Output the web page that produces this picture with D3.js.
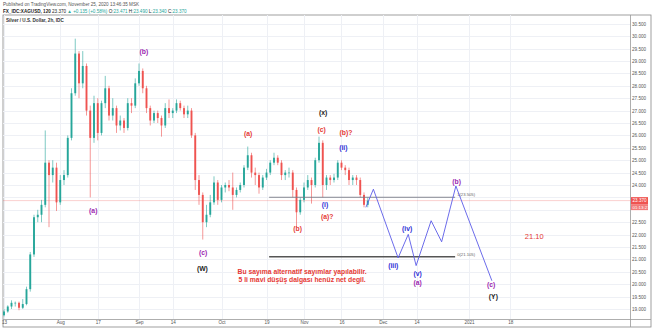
<!DOCTYPE html>
<html>
<head>
<meta charset="utf-8">
<script src="https://cdn.jsdelivr.net/npm/d3@7"></script>
<style>
  body { margin: 0; background: #fff; }
  svg { display: block; font-family: "Liberation Sans", Arial, sans-serif; }
</style>
</head>
<body>
<svg id="chart" width="654" height="328"></svg>
<script>
"use strict";

// daily OHLC, Jul 13 .. Nov 25 2020 (business days)
var startDate = "2020-07-13";
var ohlc = [
  [18.75, 19.0, 18.7, 18.9], [18.9, 19.15, 18.85, 19.1], [19.1, 19.35, 19.0, 19.25], [19.25, 19.3, 19.1, 19.25],
  [19.25, 19.3, 18.95, 19.05], [19.05, 19.4, 19.0, 19.2], [19.2, 19.9, 19.15, 19.8], [19.8, 21.3, 19.7, 21.2],
  [21.2, 22.8, 21.1, 22.7], [22.7, 23.0, 22.5, 22.8], [22.8, 23.4, 22.5, 23.2], [23.2, 26.2, 23.1, 24.9],
  [24.9, 25.0, 22.3, 24.4], [24.4, 25.0, 24.1, 24.7], [24.7, 24.9, 22.95, 23.3], [23.3, 24.4, 23.2, 24.2],
  [24.2, 24.6, 24.0, 24.4], [24.4, 26.0, 24.3, 25.9], [25.9, 27.9, 25.8, 27.7], [27.7, 29.9, 27.6, 29.3],
  [29.3, 29.4, 27.5, 28.1], [28.1, 29.4, 27.9, 28.8], [28.8, 28.9, 26.8, 27.0], [27.0, 27.2, 23.5, 25.9],
  [25.9, 27.6, 25.7, 27.3], [27.3, 27.5, 25.8, 26.1], [26.1, 27.4, 26.0, 27.3], [27.3, 28.4, 27.1, 27.9],
  [27.9, 28.0, 26.6, 26.8], [26.8, 27.5, 26.6, 27.1], [27.1, 27.2, 26.1, 26.4], [26.4, 26.8, 26.2, 26.6],
  [26.6, 26.7, 26.1, 26.3], [26.3, 27.5, 26.2, 27.3], [27.3, 27.5, 26.9, 27.2], [27.2, 28.3, 27.1, 28.1],
  [28.1, 28.9, 28.0, 28.6], [28.6, 28.7, 27.7, 27.9], [27.9, 28.0, 26.9, 27.1], [27.1, 27.2, 26.4, 26.6],
  [26.6, 27.0, 26.5, 26.9], [26.9, 27.0, 26.5, 26.7], [26.7, 26.8, 25.95, 26.4], [26.4, 27.3, 26.3, 27.1],
  [27.1, 27.45, 26.7, 26.9], [26.9, 27.1, 26.7, 27.0], [27.0, 27.45, 26.9, 27.3], [27.3, 27.4, 27.0, 27.1],
  [27.1, 27.2, 26.7, 26.85], [26.85, 27.2, 26.7, 27.0], [27.0, 27.1, 25.9, 26.0], [26.0, 26.1, 23.8, 24.2],
  [24.2, 24.4, 23.2, 23.6], [23.6, 23.7, 21.8, 22.5], [22.5, 23.2, 22.3, 22.8], [22.8, 23.6, 22.7, 23.3],
  [23.3, 24.35, 23.2, 24.1], [24.1, 24.2, 23.2, 23.4], [23.4, 24.0, 23.3, 23.9], [23.9, 24.1, 23.7, 24.0],
  [24.0, 24.2, 23.75, 23.9], [23.9, 24.5, 23.0, 23.6], [23.6, 23.9, 23.5, 23.8], [23.8, 24.1, 23.7, 24.0],
  [24.0, 24.8, 23.9, 24.7], [24.7, 25.55, 24.6, 25.2], [25.2, 25.3, 24.3, 24.5], [24.5, 24.7, 24.0, 24.4],
  [24.4, 24.5, 23.65, 23.9], [23.9, 24.4, 23.8, 24.3], [24.3, 24.65, 24.2, 24.5], [24.5, 25.0, 24.4, 24.9],
  [24.9, 25.3, 24.8, 25.1], [25.1, 25.2, 24.8, 24.9], [24.9, 25.0, 24.2, 24.4], [24.4, 24.6, 24.2, 24.5],
  [24.5, 24.7, 24.3, 24.5], [24.5, 24.6, 23.5, 23.8], [23.8, 23.9, 22.3, 22.9], [22.9, 23.5, 22.8, 23.4],
  [23.4, 24.1, 23.3, 23.9], [23.9, 24.4, 23.8, 24.2], [24.2, 24.3, 23.25, 24.0], [24.0, 25.1, 23.9, 25.0],
  [25.0, 25.95, 24.9, 25.7], [25.7, 25.8, 23.5, 24.0], [24.0, 24.4, 23.8, 24.3], [24.3, 24.4, 24.0, 24.2],
  [24.2, 24.45, 24.1, 24.3], [24.3, 25.0, 24.2, 24.9], [24.9, 25.0, 24.6, 24.7], [24.7, 24.8, 24.4, 24.6],
  [24.6, 24.7, 24.0, 24.2], [24.2, 24.4, 24.0, 24.3], [24.3, 24.4, 24.0, 24.2], [24.2, 24.3, 23.5, 23.6],
  [23.6, 23.7, 23.1, 23.2], [23.2, 23.5, 23.1, 23.37]
];
var lastPrice = 23.37;

// time axis labels
var tickDates = ["2020-07-13", "2020-08-03", "2020-08-17", "2020-09-01", "2020-09-14", "2020-10-01",
  "2020-10-19", "2020-11-02", "2020-11-16", "2020-12-01", "2020-12-14", "2021-01-01", "2021-01-18"];
var tickLabels = ["13", "Aug", "17", "Sep", "14", "Oct", "19", "Nov", "16", "Dec", "14", "2021", "18"];

// projected wave path (business-day index, price)
var projDays = [96.5, 98.5, 105.1, 107.8, 109.9, 113.9, 116.7, 120.5, 130.1];
var projPrices = [23.1, 23.83, 21.06, 22.01, 20.75, 22.56, 21.71, 23.96, 20.14];

// two level lines
var levelPrices = [23.505, 21.105];
var levelNames = ["1(23.505)", "0(21.105)"];
var levelFrom = 70.7, levelTo = 120.3;

// wave labels
var waveText = ["(a)", "(b)", "(c)", "(W)", "(a)", "(b)", "(c)", "(x)", "(b)?", "(ii)", "(i)", "(a)?",
  "(iii)", "(iv)", "(v)", "(a)", "(b)", "(c)", "(Y)", "21.10"];
var waveDay = [23.8, 37.3, 53.1, 52.9, 65.1, 78.3, 84.7, 85.1, 91.2, 90.5, 85.6, 86.2,
  103.8, 107.5, 110.3, 110.3, 120.7, 129.9, 130.5, 141.4];
var wavePrice = [22.99, 29.4, 21.29, 20.64, 26.07, 22.23, 26.22, 26.93, 26.1, 25.5, 23.22, 22.72,
  20.77, 22.25, 20.44, 20.08, 24.16, 19.97, 19.5, 21.92];
var waveKind = ["p", "p", "p", "k", "r", "r", "r", "k", "r", "b", "b", "r",
  "b", "b", "b", "p", "p", "p", "k", "r"];

var noteLines = ["Bu sayıma alternatif sayımlar yapılabilir.", "5 li mavi düşüş dalgası henüz net degil."];

var kindColor = { p: "#9c27b0", r: "#e53935", b: "#2f2fd6", k: "#222" };
var upColor = "#26a69a", downColor = "#ef5350";

var frame = { left: 3, top: 15, right: 651, bottom: 327 };
var plotRight = 630, plotBottom = 319;

function bizIndex(str) {
    var d0 = new Date(startDate + "T00:00:00Z");
    var d1 = new Date(str + "T00:00:00Z");
    var n = 0;
    for (var d = new Date(d0); d < d1; d.setUTCDate(d.getUTCDate() + 1)) {
        var wd = d.getUTCDay();
        if (wd !== 0 && wd !== 6) n++;
    }
    return n;
}

var svg = d3.select("#chart");

var x = d3.scaleLinear().domain([0, 168]).range([4, 634]);
var y = d3.scaleLinear().domain([19, 30.5]).range([309, 23.8]);

svg.append("defs").append("clipPath").attr("id", "plot")
    .append("rect").attr("x", frame.left).attr("y", frame.top)
    .attr("width", plotRight - frame.left).attr("height", plotBottom - frame.top);

// header
svg.append("text").attr("x", 3).attr("y", 6).attr("font-size", 4.6).attr("fill", "#555")
    .text("Published on TradingView.com, November 25, 2020 13:46:35 MSK");
var hdr = svg.append("text").attr("x", 3).attr("y", 12.5).attr("font-size", 4.6).attr("fill", "#222");
hdr.append("tspan").attr("font-weight", "bold").text("FX_IDC:XAGUSD, 120 ");
hdr.append("tspan").text("23.370 ");
hdr.append("tspan").attr("fill", upColor).text("▲ +0.135 (+0.58%) ");
[["O:", "23.471"], ["H:", "23.490"], ["L:", "23.340"], ["C:", "23.370"]].forEach(function(p) {
    hdr.append("tspan").text(p[0]);
    hdr.append("tspan").attr("fill", upColor).text(p[1] + " ");
});

// frame
svg.append("rect").attr("x", frame.left).attr("y", frame.top)
    .attr("width", frame.right - frame.left).attr("height", frame.bottom - frame.top)
    .attr("fill", "none").attr("stroke", "#888").attr("stroke-width", 0.8);

// grid
var priceTicks = d3.range(19, 30.51, 0.5);
var grid = svg.append("g").attr("clip-path", "url(#plot)");
grid.selectAll(".hg").data(priceTicks).enter().append("line")
    .attr("x1", frame.left).attr("x2", plotRight)
    .attr("y1", d => Math.round(y(d)) + 0.5).attr("y2", d => Math.round(y(d)) + 0.5)
    .attr("stroke", "#eef0f5").attr("stroke-width", 1);
var tickIdx = tickDates.map(bizIndex);
grid.selectAll(".vg").data(tickIdx).enter().append("line")
    .attr("x1", d => Math.round(x(d)) + 0.5).attr("x2", d => Math.round(x(d)) + 0.5)
    .attr("y1", frame.top).attr("y2", plotBottom)
    .attr("stroke", "#eef0f5").attr("stroke-width", 1);

// axes separators
svg.append("line").attr("x1", plotRight + 0.5).attr("x2", plotRight + 0.5)
    .attr("y1", frame.top).attr("y2", frame.bottom).attr("stroke", "#999").attr("stroke-width", 0.8);
svg.append("line").attr("x1", frame.left).attr("x2", frame.right)
    .attr("y1", plotBottom + 0.5).attr("y2", plotBottom + 0.5).attr("stroke", "#999").attr("stroke-width", 0.8);

// price axis (labels under the last-price tag are hidden, as on the chart)
var shownTicks = priceTicks.filter(d => Math.abs(y(d) - y(lastPrice) - 3) > 8);
var yAxis = d3.axisRight(y).tickValues(shownTicks).tickSize(0).tickPadding(2)
    .tickFormat(d3.format(".3f"));
var ya = svg.append("g").attr("transform", "translate(" + plotRight + ",0)").call(yAxis);
ya.select(".domain").remove();
ya.selectAll("text").attr("font-size", 4.6).attr("fill", "#555").attr("font-family", "Liberation Sans, Arial");

// time axis
var xAxis = d3.axisBottom(x).tickValues(tickIdx).tickSize(0).tickPadding(2)
    .tickFormat((d, i) => tickLabels[i]);
var xa = svg.append("g").attr("transform", "translate(0," + plotBottom + ")").call(xAxis);
xa.select(".domain").remove();
xa.selectAll("text").attr("font-size", 4.6).attr("fill", "#555").attr("font-family", "Liberation Sans, Arial");

// title
svg.append("text").attr("x", 6).attr("y", 22).attr("font-size", 4.6).attr("fill", "#333")
    .attr("font-weight", "bold").text("Silver / U.S. Dollar, 2h, IDC");

var plot = svg.append("g").attr("clip-path", "url(#plot)");

// last price line
plot.append("line").attr("x1", frame.left).attr("x2", plotRight)
    .attr("y1", y(lastPrice)).attr("y2", y(lastPrice))
    .attr("stroke", "#ef5350").attr("stroke-opacity", 0.35).attr("stroke-width", 0.8);

// candles
var candles = plot.selectAll(".c").data(ohlc).enter().append("g");
candles.append("line")
    .attr("x1", (d, i) => x(i)).attr("x2", (d, i) => x(i))
    .attr("y1", d => y(d[1])).attr("y2", d => y(d[2]))
    .attr("stroke", d => d[3] >= d[0] ? upColor : downColor).attr("stroke-width", 0.6);
candles.append("rect")
    .attr("x", (d, i) => x(i) - 0.95).attr("width", 1.9)
    .attr("y", d => y(Math.max(d[0], d[3])))
    .attr("height", d => Math.max(0.6, Math.abs(y(d[0]) - y(d[3]))))
    .attr("fill", d => d[3] >= d[0] ? upColor : downColor);

// level lines
levelPrices.forEach(function(p, i) {
    plot.append("line").attr("x1", x(levelFrom)).attr("x2", x(levelTo))
        .attr("y1", y(p)).attr("y2", y(p))
        .attr("stroke", i === 0 ? "#787b86" : "#555").attr("stroke-width", i === 0 ? 0.9 : 1.6);
    plot.append("text").attr("x", x(levelTo) + 2).attr("y", y(p) - 1)
        .attr("font-size", 4.2).attr("fill", "#666").text(levelNames[i]);
});

// projected path
var proj = projDays.map((d, i) => [d, projPrices[i]]);
plot.append("path").datum(proj)
    .attr("d", d3.line().x(d => x(d[0])).y(d => y(d[1])))
    .attr("fill", "none").attr("stroke", "#5b5be8").attr("stroke-width", 0.9);

// wave labels
waveText.forEach(function(t, i) {
    plot.append("text").attr("x", x(waveDay[i])).attr("y", y(wavePrice[i]))
        .attr("text-anchor", "middle").attr("dominant-baseline", "central")
        .attr("font-size", t === "21.10" ? 7.5 : 6.8).attr("font-weight", t === "21.10" ? "normal" : "bold")
        .attr("fill", kindColor[waveKind[i]]).text(t);
});

// note
noteLines.forEach(function(t, i) {
    plot.append("text").attr("x", x(79.5)).attr("y", y(20.5 - i * 0.33))
        .attr("text-anchor", "middle").attr("dominant-baseline", "central")
        .attr("font-size", 6.8).attr("font-weight", "bold").attr("fill", "#e53935").text(t);
});

// last price tag
svg.append("rect").attr("x", plotRight + 1).attr("y", y(lastPrice) - 3.5).attr("width", 17).attr("height", 7)
    .attr("fill", "#ef5350");
svg.append("rect").attr("x", plotRight + 1).attr("y", y(lastPrice) + 3.5).attr("width", 17).attr("height", 6)
    .attr("fill", "#f27a78");
svg.append("text").attr("x", plotRight + 2.5).attr("y", y(lastPrice) + 1.6).attr("font-size", 4.6)
    .attr("fill", "#fff").text("23.370");
svg.append("text").attr("x", plotRight + 2.5).attr("y", y(lastPrice) + 8).attr("font-size", 4.4)
    .attr("fill", "#fff").text("01:13:27");
</script>
</body>
</html>
